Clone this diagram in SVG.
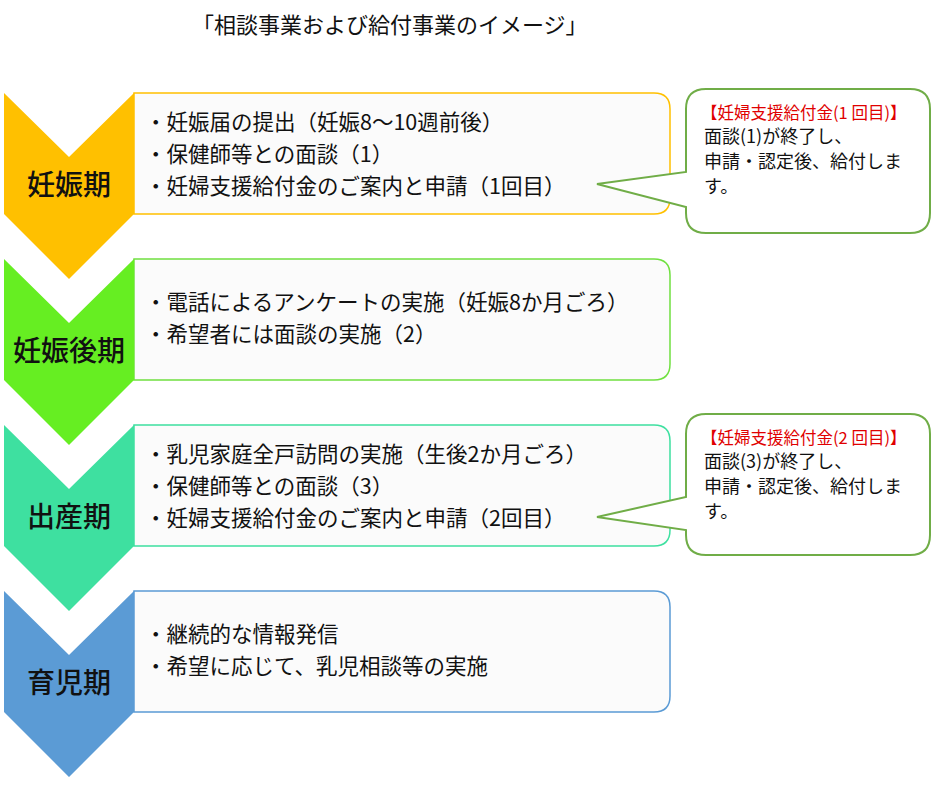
<svg xmlns="http://www.w3.org/2000/svg" width="938" height="785" viewBox="0 0 938 785">
<style>
text{font-family:"Noto Sans CJK JP","Liberation Sans",sans-serif;fill:#111}
.t{font-size:21.5px}
.s{font-size:28px;text-anchor:middle;font-weight:500}
.c{font-size:18px}
.r{fill:#e00000;font-size:16.5px}
.box{fill:#fbfbfb;stroke-width:1.5}
.cl{fill:#fff;stroke:#70ad47;stroke-width:2}
</style>
<rect width="938" height="785" fill="#fff"/>
<text x="192" y="33" style="font-size:22px">「相談事業および給付事業のイメージ」</text>
<g id="stage1">
<path class="box" d="M134 93 H654 Q670 93 670 109 V198 Q670 214 654 214 H134 Z" stroke="#ffc000"/>
<path d="M4 93 L69 157 L134 93 L134 214 L69 279 L4 214 Z" fill="#ffc000"/>
<text class="s" x="69" y="195">妊娠期</text>
<text class="t" x="145" y="130">・妊娠届の提出（妊娠8～10週前後）</text>
<text class="t" x="145" y="162">・保健師等との面談（1）</text>
<text class="t" x="145" y="194">・妊婦支援給付金のご案内と申請（1回目）</text>
</g>
<g id="stage2">
<path class="box" d="M134 259 H654 Q670 259 670 275 V364 Q670 380 654 380 H134 Z" stroke="#70e040"/>
<path d="M4 259 L69 323 L134 259 L134 380 L69 445 L4 380 Z" fill="#66ee22"/>
<text class="s" x="69" y="361">妊娠後期</text>
<text class="t" x="145" y="310">・電話によるアンケートの実施（妊娠8か月ごろ）</text>
<text class="t" x="145" y="342">・希望者には面談の実施（2）</text>
</g>
<g id="stage3">
<path class="box" d="M134 425 H654 Q670 425 670 441 V530 Q670 546 654 546 H134 Z" stroke="#3ee0a0"/>
<path d="M4 425 L69 489 L134 425 L134 546 L69 611 L4 546 Z" fill="#3ee0a0"/>
<text class="s" x="69" y="527">出産期</text>
<text class="t" x="145" y="462">・乳児家庭全戸訪問の実施（生後2か月ごろ）</text>
<text class="t" x="145" y="494">・保健師等との面談（3）</text>
<text class="t" x="145" y="526">・妊婦支援給付金のご案内と申請（2回目）</text>
</g>
<g id="stage4">
<path class="box" d="M134 591 H654 Q670 591 670 607 V696 Q670 712 654 712 H134 Z" stroke="#5b9bd5"/>
<path d="M4 591 L69 655 L134 591 L134 712 L69 777 L4 712 Z" fill="#5b9bd5"/>
<text class="s" x="69" y="693">育児期</text>
<text class="t" x="145" y="642">・継続的な情報発信</text>
<text class="t" x="145" y="674">・希望に応じて、乳児相談等の実施</text>
</g>
<g id="connectors">
<path class="cl" d="M706 89 H910 Q930 89 930 109 V213 Q930 233 910 233 H706 Q686 233 686 213 V207 L597 184 L686 172 V109 Q686 89 706 89 Z"/>
<path class="cl" d="M706 414 H910 Q930 414 930 434 V535 Q930 555 910 555 H706 Q686 555 686 535 V530 L597 517 L686 497 V434 Q686 414 706 414 Z"/>
</g>
<g id="callout1">
<text class="c r" x="701" y="119">【妊婦支援給付金(1 回目)】</text>
<text class="c" x="704" y="143">面談(1)が終了し、</text>
<text class="c" x="704" y="168">申請・認定後、給付しま</text>
<text class="c" x="704" y="193">す。</text>
</g>
<g id="callout2">
<text class="c r" x="701" y="444">【妊婦支援給付金(2 回目)】</text>
<text class="c" x="704" y="468">面談(3)が終了し、</text>
<text class="c" x="704" y="493">申請・認定後、給付しま</text>
<text class="c" x="704" y="518">す。</text>
</g>
</svg>
